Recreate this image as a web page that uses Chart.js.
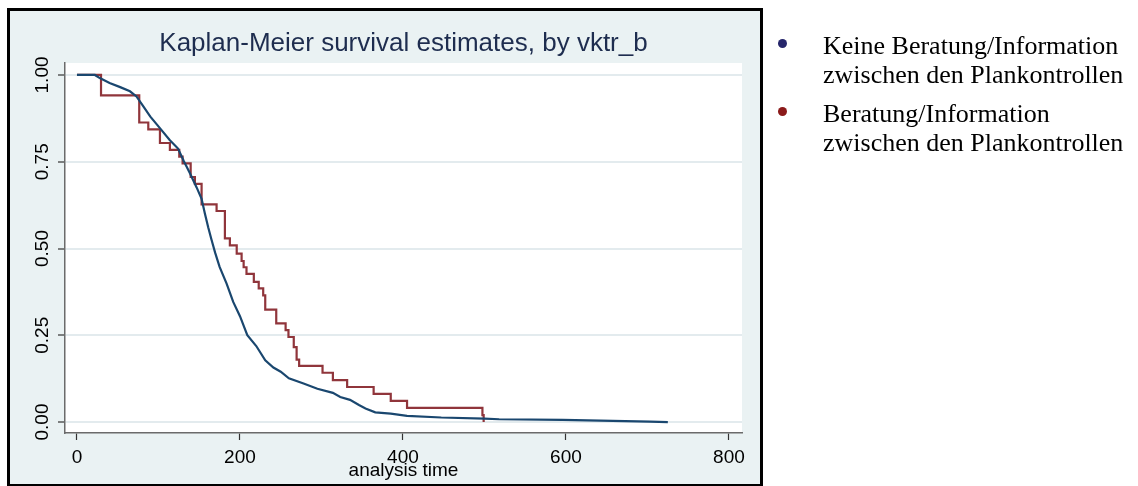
<!DOCTYPE html>
<html>
<head>
<meta charset="utf-8">
<script src="https://cdn.jsdelivr.net/npm/chart.js@4.4.1/dist/chart.umd.min.js"></script>
<style>
  html, body { margin: 0; padding: 0; background: #fff; }
  body { width: 1138px; height: 486px; position: relative; overflow: hidden; }
  #frame { position: absolute; left: 7px; top: 8px; width: 750px; height: 473px; background: #eaf2f3; border: 3px solid #000; }
  #wrap { position: absolute; left: 0; top: 0; width: 1138px; height: 486px; }
  #legend { position: absolute; left: 770px; top: 30.5px; font-family: "Liberation Serif", "Times New Roman", serif; font-size: 26px; line-height: 29.5px; color: #000; }
  .item { position: relative; padding-left: 53px; margin-bottom: 9px; white-space: nowrap; }
  .dot { position: absolute; left: 7.5px; top: 8px; width: 9px; height: 9px; border-radius: 50%; }
</style>
</head>
<body>
<div id="frame"></div>
<div id="wrap"><canvas id="km" width="1138" height="486"></canvas></div>
<div id="legend"></div>
<script>
// tick positions
const timeTicks = [0, 200, 400, 600, 800];
const survTicks = [0, 0.25, 0.5, 0.75, 1];

// group labels (two lines each, as in the legend)
const groupLabels = [
  ['Keine Beratung/Information', 'zwischen den Plankontrollen'],
  ['Beratung/Information', 'zwischen den Plankontrollen']
];
const dotColors = ['#26266b', '#8b1a1a'];

// vktr_b = 0 (keine Beratung)
const noneTime = [0, 22, 28, 40, 53, 65, 73, 81, 90, 102, 114, 124, 131, 138.6, 146.8, 152.9,
  157, 161, 165, 169.5, 175, 183.6, 191.7, 200, 209, 220, 231, 241, 250, 260, 278, 295, 314,
  323, 335, 346, 354, 366, 385, 405, 447, 500, 518, 596, 703, 725];
const noneSurv = [1, 1, 0.991, 0.977, 0.965, 0.953, 0.938, 0.911, 0.88, 0.846, 0.812, 0.788, 0.752,
  0.717, 0.676, 0.643, 0.6, 0.561, 0.526, 0.488, 0.447, 0.399, 0.346, 0.305, 0.25, 0.219, 0.178,
  0.157, 0.145, 0.126, 0.111, 0.096, 0.084, 0.072, 0.064, 0.049, 0.039, 0.028, 0.024, 0.018,
  0.013, 0.01, 0.008, 0.006, 0.001, 0];

// vktr_b = 1 (Beratung)
const beratTime = [0, 29.5, 76.4, 87.5, 101.8, 114, 125.5, 129.6, 139.5, 144.7, 152.9, 171.3,
  181.5, 187.6, 196, 202, 204.5, 208, 217, 223, 228.5, 231, 244.5, 256, 259.5, 266, 269.5,
  272.6, 301.3, 314, 331.5, 364, 385, 405, 497.5, 499];
const beratSurv = [1, 0.941, 0.863, 0.843, 0.804, 0.784, 0.765, 0.745, 0.706, 0.686, 0.627, 0.608,
  0.529, 0.509, 0.485, 0.464, 0.446, 0.427, 0.404, 0.385, 0.365, 0.324, 0.284, 0.265, 0.245,
  0.216, 0.18, 0.162, 0.142, 0.121, 0.101, 0.081, 0.061, 0.041, 0.02, 0];

const toPoints = (xs, ys) => xs.map((x, i) => ({ x: x, y: ys[i] }));

// white plot region
const plotBg = {
  id: 'plotBg',
  beforeDraw(chart) {
    const a = chart.chartArea;
    chart.ctx.save();
    chart.ctx.fillStyle = '#fff';
    chart.ctx.fillRect(a.left, a.top, a.right - a.left, a.bottom - a.top);
    chart.ctx.restore();
  }
};

const tickFont = { family: 'Liberation Sans, Arial, sans-serif', size: 19 };

new Chart(document.getElementById('km'), {
  type: 'line',
  data: {
    datasets: [{
      label: groupLabels[0].join(' '),
      data: toPoints(noneTime, noneSurv),
      borderColor: '#1a476f',
      borderWidth: 2.2,
      pointRadius: 0,
      fill: false,
      tension: 0
    }, {
      label: groupLabels[1].join(' '),
      data: toPoints(beratTime, beratSurv),
      borderColor: '#90353b',
      borderWidth: 2.2,
      pointRadius: 0,
      fill: false,
      stepped: true
    }]
  },
  options: {
    responsive: false,
    animation: false,
    layout: { padding: { left: 25, right: 396, top: 30, bottom: 3 } },
    plugins: {
      legend: { display: false },
      tooltip: { enabled: false },
      title: {
        display: true,
        text: 'Kaplan-Meier survival estimates, by vktr_b',
        fullSize: false,
        color: '#1e2d4f',
        font: { family: 'Liberation Sans, Arial, sans-serif', size: 26, weight: 'normal', lineHeight: 1.1 },
        padding: { top: 0, bottom: 4.4 }
      }
    },
    scales: {
      x: {
        type: 'linear',
        min: -14.7,
        max: 816,
        afterFit: s => { s.height = 50; },
        afterBuildTicks: s => { s.ticks = timeTicks.map(v => ({ value: v })); },
        border: { display: true, color: '#6b6b6b', width: 1.5 },
        grid: { drawOnChartArea: false, tickLength: 7, tickColor: '#333', tickWidth: 1.2 },
        ticks: { color: '#000', font: tickFont, padding: 6, maxRotation: 0 },
        title: {
          display: true,
          text: 'analysis time',
          color: '#000',
          font: tickFont,
          padding: { top: 0, bottom: 0.6 }
        }
      },
      y: {
        type: 'linear',
        min: -0.0316,
        max: 1.0345,
        afterFit: s => { s.width = 40; },
        afterBuildTicks: s => { s.ticks = survTicks.map(v => ({ value: v })); },
        border: { display: true, color: '#6b6b6b', width: 1.5 },
        grid: { color: '#e3ebee', lineWidth: 2, tickLength: 7, tickColor: '#333', tickWidth: 1.2 },
        ticks: {
          color: '#000',
          font: tickFont,
          minRotation: 90,
          maxRotation: 90,
          crossAlign: 'center',
          padding: -3.5,
          callback: v => v.toFixed(2)
        }
      }
    }
  },
  plugins: [plotBg]
});

// legend on the right, outside the frame
const legend = document.getElementById('legend');
groupLabels.forEach((lines, i) => {
  const item = document.createElement('div');
  item.className = 'item';
  const dot = document.createElement('span');
  dot.className = 'dot';
  dot.style.background = dotColors[i];
  item.appendChild(dot);
  lines.forEach((line, j) => {
    if (j > 0) item.appendChild(document.createElement('br'));
    item.appendChild(document.createTextNode(line));
  });
  legend.appendChild(item);
});
</script>
</body>
</html>
